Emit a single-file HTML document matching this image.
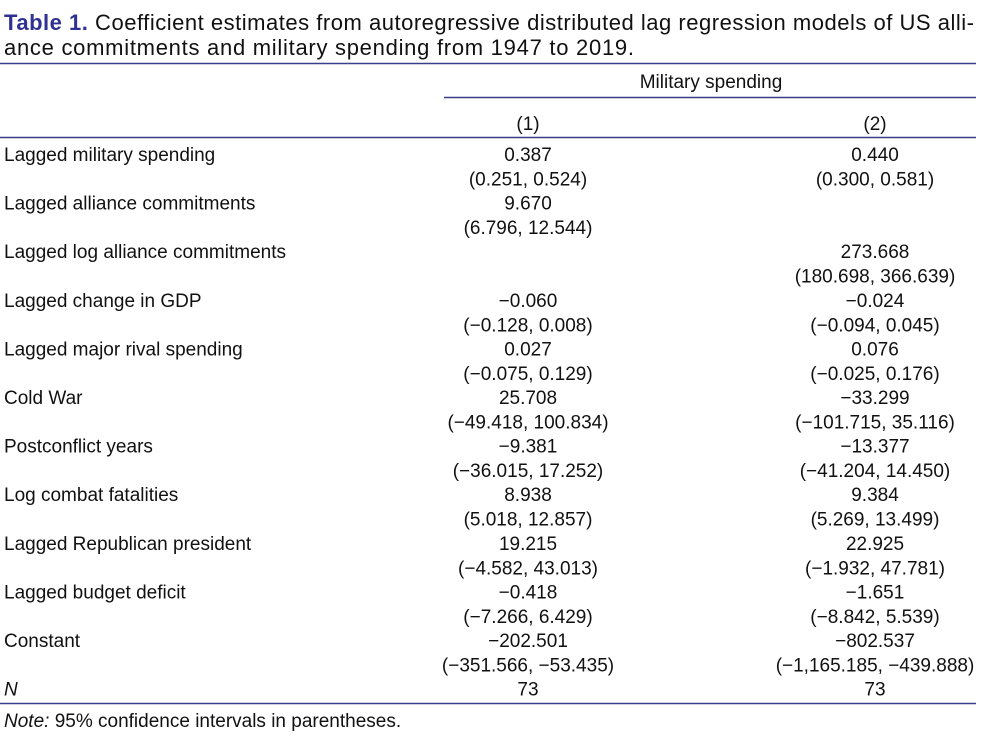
<!DOCTYPE html>
<html><head><meta charset="utf-8"><style>
html,body{margin:0;padding:0;background:#fff;width:990px;height:739px;overflow:hidden}
svg{display:block}
text{font-family:"Liberation Sans",sans-serif;fill:#111;font-size:19px}
</style></head><body>
<svg width="990" height="739" viewBox="0 0 990 739">
<g>
<text x="4" y="30" style="font-size:22px" textLength="970" lengthAdjust="spacing"><tspan style="fill:#2e3192;font-weight:bold">Table 1.</tspan> Coefficient estimates from autoregressive distributed lag regression models of US alli-</text>
<text x="4" y="55" style="font-size:22px" textLength="630" lengthAdjust="spacing">ance commitments and military spending from 1947 to 2019.</text>
</g>
<line x1="0" y1="63.5" x2="976" y2="63.5" stroke="#3a3f8c" stroke-width="1.5"/>
<text x="711" y="88" text-anchor="middle">Military spending</text>
<line x1="444" y1="97.5" x2="976" y2="97.5" stroke="#3a3f8c" stroke-width="1.5"/>
<text x="528" y="130" text-anchor="middle">(1)</text>
<text x="875" y="130" text-anchor="middle">(2)</text>
<line x1="0" y1="137.5" x2="976" y2="137.5" stroke="#3a3f8c" stroke-width="1.5"/>
<g id="rows"></g>
<line x1="0" y1="703.5" x2="976" y2="703.5" stroke="#3a3f8c" stroke-width="1.5"/>
<text x="4" y="727"><tspan font-style="italic">Note:</tspan> 95% confidence intervals in parentheses.</text>
</svg>
<script>
const labels=["Lagged military spending","Lagged alliance commitments","Lagged log alliance commitments","Lagged change in GDP","Lagged major rival spending","Cold War","Postconflict years","Log combat fatalities","Lagged Republican president","Lagged budget deficit","Constant","N"];
const col1=[["0.387","(0.251, 0.524)"],["9.670","(6.796, 12.544)"],["",""],["\u22120.060","(\u22120.128, 0.008)"],["0.027","(\u22120.075, 0.129)"],["25.708","(\u221249.418, 100.834)"],["\u22129.381","(\u221236.015, 17.252)"],["8.938","(5.018, 12.857)"],["19.215","(\u22124.582, 43.013)"],["\u22120.418","(\u22127.266, 6.429)"],["\u2212202.501","(\u2212351.566, \u221253.435)"],["73",""]];
const col2=[["0.440","(0.300, 0.581)"],["",""],["273.668","(180.698, 366.639)"],["\u22120.024","(\u22120.094, 0.045)"],["0.076","(\u22120.025, 0.176)"],["\u221233.299","(\u2212101.715, 35.116)"],["\u221213.377","(\u221241.204, 14.450)"],["9.384","(5.269, 13.499)"],["22.925","(\u22121.932, 47.781)"],["\u22121.651","(\u22128.842, 5.539)"],["\u2212802.537","(\u22121,165.185, \u2212439.888)"],["73",""]];
const ns="http://www.w3.org/2000/svg";
const g=document.getElementById('rows');
function t(x,y,s,anchor,name,italic){
  const e=document.createElementNS(ns,'text');
  e.setAttribute('x',x);e.setAttribute('y',y);
  if(anchor)e.setAttribute('text-anchor',anchor);
  if(italic)e.setAttribute('font-style','italic');
  e.textContent=s;
  
  
  g.appendChild(e);
}
labels.forEach((l,i)=>{
  const y=161+i*48.6;
  t(4,y,l,null,'row-label',i===labels.length-1);
  if(col1[i][0])t(528,y,col1[i][0],'middle','model-1-estimate');
  if(col1[i][1])t(528,y+24.5,col1[i][1],'middle','model-1-interval');
  if(col2[i][0])t(875,y,col2[i][0],'middle','model-2-estimate');
  if(col2[i][1])t(875,y+24.5,col2[i][1],'middle','model-2-interval');
});
</script>
</body></html>
